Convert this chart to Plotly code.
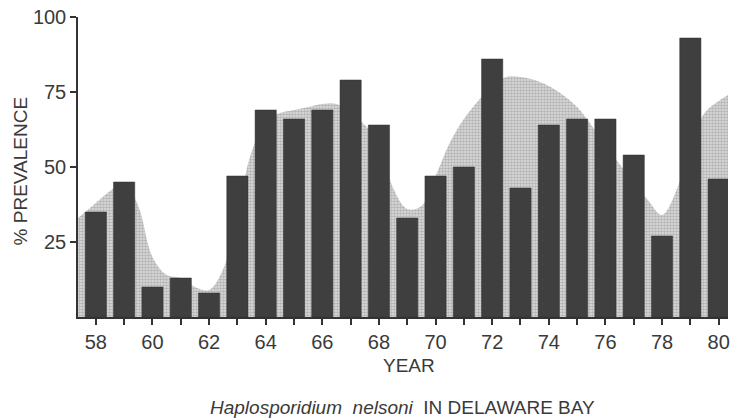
import plotly.graph_objects as go

years = list(range(1958, 1981))
prevalence = [35, 45, 10, 13, 8, 47, 69, 66, 69, 79, 64, 33, 47, 50, 86, 43, 64, 66, 66, 54, 27, 93, 46]

# smooth envelope (shaded band)
env_x = [1957.37, 1958, 1958.5, 1959, 1959.5, 1960, 1960.5, 1961, 1961.5, 1962, 1962.5,
         1963, 1963.5, 1964, 1964.5, 1965, 1965.5, 1966, 1966.5, 1967, 1967.5, 1968,
         1968.5, 1969, 1969.5, 1970, 1970.5, 1971, 1971.5, 1972, 1972.5, 1973, 1973.5,
         1974, 1974.5, 1975, 1975.5, 1976, 1976.5, 1977, 1977.5, 1978, 1978.5, 1979,
         1979.5, 1980, 1980.33]
env_y = [33, 38, 42, 45, 37, 20, 14, 13, 10, 9, 16,
         35, 55, 65, 68, 69, 70, 71, 71, 68, 64, 58,
         43, 36, 37, 47, 58, 66, 72, 77, 80, 80, 79,
         77, 74, 70, 64, 57, 51, 45, 39, 34, 42, 57,
         68, 72, 74]

tick_vals = years
tick_text = [str(y % 100) if (y % 2 == 0) else "" for y in years]
y_ticks = [25, 50, 75, 100]

FONT = "Liberation Sans, Arial, sans-serif"
TXT = "#3a3a3a"
XR = [1957.37, 1980.33]
YR = [0, 100]

fig = go.Figure()
fig.add_trace(go.Scatter(
    x=env_x, y=env_y, mode="lines", line=dict(shape="spline", width=0, color="#bdbdbd", smoothing=1.0),
    fill="tozeroy", fillcolor="#c4c4c4",
    fillpattern=dict(shape=".", bgcolor="#dedede", fgcolor="#8a8a8a", size=3, solidity=0.55),
    hoverinfo="skip", showlegend=False, xaxis="x", yaxis="y",
))
fig.add_trace(go.Bar(
    x=years, y=prevalence, width=0.75,
    marker=dict(color="#3f3f3f", line=dict(color="#333333", width=0.5)),
    showlegend=False, xaxis="x2", yaxis="y2",
))

axis_common = dict(ticks="outside", ticklen=6, tickwidth=1.5, tickcolor="#333",
                   showline=True, linecolor="#333", linewidth=1.5, showgrid=False,
                   zeroline=False, tickfont=dict(size=20, color=TXT))

fig.update_layout(
    width=736, height=419,
    margin=dict(l=78, r=6, t=16, b=102),
    paper_bgcolor="white", plot_bgcolor="white",
    font=dict(family=FONT, color=TXT, size=19),
    xaxis=dict(range=XR, tickvals=tick_vals, ticktext=tick_text, **axis_common),
    yaxis=dict(range=YR, tickvals=y_ticks, ticktext=[str(v) for v in y_ticks], **axis_common),
    xaxis2=dict(range=XR, overlaying="x", visible=False),
    yaxis2=dict(range=YR, overlaying="y", visible=False),
    annotations=[
        dict(text="% PREVALENCE", xref="paper", yref="paper", x=-0.088, y=0.488,
             textangle=-90, showarrow=False, font=dict(size=19, color=TXT),
             xanchor="center", yanchor="middle"),
        dict(text="YEAR", xref="paper", yref="paper", x=0.509, y=-0.162,
             showarrow=False, font=dict(size=19, color=TXT), xanchor="center", yanchor="middle"),
        dict(text="<i>Haplosporidium  nelsoni</i>  IN DELAWARE BAY", xref="paper", yref="paper",
             x=0.499, y=-0.30, showarrow=False, font=dict(size=19, color=TXT),
             xanchor="center", yanchor="middle"),
    ],
)

fig.write_html("out.html", config={"displayModeBar": False},
               post_script="document.body.style.margin='0';document.body.style.padding='0';")
